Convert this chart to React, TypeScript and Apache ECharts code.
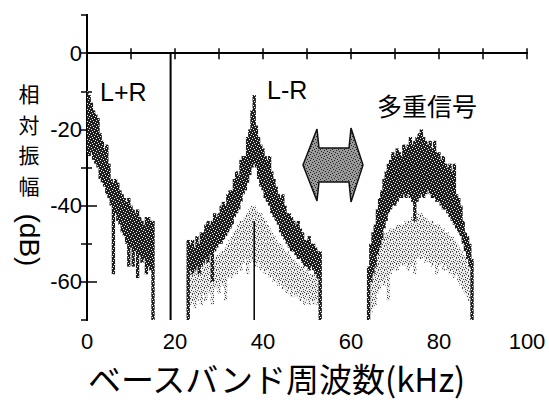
import React, { useEffect, useRef } from 'react';
import * as echarts from 'echarts';

// sampling grid step (kHz)
const STEP = 0.5;

// L+R band (0 .. 15 kHz)
const sumStart = 0;
const sumTop = [-10, -11, -13, -15, -16, -17, -21, -23, -25, -24, -29, -33, -34, -33, -34, -36, -37, -38, -39, -38, -40, -41, -42, -41, -43, -44, -45, -43, -43, -44, -44];
const sumBottom = [-26, -27, -26, -28, -29, -30, -33, -34, -35, -37, -38, -40, -58, -42, -44, -45, -47, -48, -50, -56, -51, -56, -52, -59, -53, -55, -54, -58, -56, -57, -70];

// L-R band (23 .. 53 kHz)
const diffStart = 23;
const diffTop = [-49, -50, -49, -51, -48, -50, -47, -47, -45, -44, -45, -44, -42, -43, -42, -40, -39, -40, -37, -36, -36, -33, -31, -32, -28, -27, -27, -22, -20, -15, -11, -19, -22, -24, -25, -27, -28, -27, -31, -33, -35, -37, -38, -37, -40, -42, -42, -43, -44, -45, -44, -46, -47, -49, -49, -48, -50, -50, -51, -52, -52];
const diffBottom = [-70, -57, -58, -57, -56, -58, -56, -55, -54, -55, -53, -60, -52, -51, -50, -50, -49, -48, -47, -46, -45, -43, -42, -41, -39, -37, -36, -34, -32, -30, -29, -30, -33, -35, -36, -38, -39, -40, -42, -43, -44, -45, -47, -48, -49, -50, -51, -52, -52, -53, -54, -54, -55, -56, -56, -57, -56, -57, -58, -59, -70];
const diffGrayTop = [-58, -57, -57, -58, -56, -57, -57, -56, -55, -55, -55, -54, -54, -53, -53, -52, -52, -51, -50, -49, -48, -47, -46, -45, -44, -44, -43, -42, -41, -40, -40, -41, -42, -42, -43, -44, -45, -46, -47, -48, -49, -50, -50, -51, -52, -52, -53, -54, -54, -55, -55, -56, -56, -57, -57, -58, -58, -58, -59, -59, -60];
const diffGrayBottom = [-66, -66, -65, -67, -65, -64, -66, -63, -65, -62, -63, -66, -62, -61, -63, -60, -61, -65, -59, -58, -59, -57, -58, -56, -57, -55, -54, -58, -55, -54, -55, -56, -55, -57, -56, -58, -57, -59, -58, -60, -59, -61, -60, -62, -61, -63, -62, -64, -62, -64, -63, -65, -64, -66, -64, -66, -65, -66, -65, -66, -66];

// multiplex band (64 .. 87.5 kHz)
const mpxStart = 64;
const mpxTop = [-56, -50, -47, -45, -41, -38, -36, -33, -31, -29, -28, -26, -27, -25, -26, -27, -24, -25, -24, -22, -24, -23, -22, -21, -20, -22, -23, -24, -23, -25, -23, -26, -26, -28, -27, -29, -30, -29, -31, -29, -37, -38, -40, -44, -47, -48, -50, -54];
const mpxBottom = [-70, -60, -58, -56, -53, -51, -49, -46, -44, -42, -41, -40, -40, -39, -38, -38, -37, -38, -37, -38, -39, -44, -39, -38, -37, -38, -37, -36, -37, -38, -38, -39, -39, -40, -41, -41, -42, -43, -44, -45, -46, -47, -48, -50, -52, -54, -56, -70];
const mpxGrayTop = [-62, -60, -58, -56, -53, -51, -49, -48, -47, -47, -46, -46, -46, -45, -45, -45, -45, -44, -44, -44, -43, -43, -43, -42, -42, -43, -43, -44, -44, -44, -45, -45, -45, -46, -46, -47, -47, -48, -48, -49, -50, -51, -52, -53, -54, -56, -58, -60];
const mpxGrayBottom = [-70, -68, -67, -66, -63, -62, -60, -61, -59, -65, -58, -57, -56, -57, -56, -55, -56, -55, -57, -56, -55, -58, -54, -53, -54, -53, -55, -54, -55, -56, -55, -58, -56, -55, -57, -56, -57, -58, -57, -59, -58, -60, -61, -62, -63, -64, -65, -67];

// 19 kHz pilot and 38 kHz residual carrier
const pilotFreq = 19;
const pilotLevel = 0;
const carrierFreq = 38;
const carrierLevel = -44;

const xTicks = [0, 20, 40, 60, 80, 100];
const yTicks = [-60, -40, -20, 0];

const band = (start: number, hi: number[], lo: number[]) =>
  hi.map((h, i) => [start + i * STEP, h, lo[i]]);

const makePattern = (bg: string, fg: string, dots: number[][]) => {
  const c = document.createElement('canvas');
  c.width = 6;
  c.height = 6;
  const ctx = c.getContext('2d')!;
  ctx.fillStyle = bg;
  ctx.fillRect(0, 0, 6, 6);
  ctx.fillStyle = fg;
  dots.forEach(([x, y]) => ctx.fillRect(x, y, 1, 1));
  return { image: c, repeat: 'repeat' };
};

export default function App() {
  const ref = useRef<HTMLDivElement>(null);
  useEffect(() => {
    const chart = echarts.init(ref.current!, null, { renderer: 'svg' });
    const half = STEP / 2 + 0.13;
    const rectSeries = (data: number[][], fill: any, z: number) => ({
      type: 'custom',
      data,
      z,
      clip: true,
      silent: true,
      encode: { x: 0, y: [1, 2] },
      renderItem: (_p: any, api: any) => {
        const f = api.value(0);
        const hi = api.value(1);
        const lo = api.value(2);
        const a = api.coord([f - half, hi]);
        const b = api.coord([f + half, lo]);
        return {
          type: 'rect',
          shape: { x: a[0], y: a[1], width: b[0] - a[0], height: b[1] - a[1] },
          style: { fill },
        };
      },
    });
    const DARK = makePattern('#1e1e1e', '#f0f0f0', [[0, 0], [3, 1], [1, 3], [4, 4], [5, 2], [2, 5]]);
    const GRAY = makePattern('#ececec', '#4a4a4a', [[0, 0], [3, 1], [1, 3], [4, 4], [5, 2], [2, 5], [3, 3], [0, 5]]);
    const ARROW = makePattern('#9a9a9a', '#222', [[0, 0], [3, 1], [1, 3], [4, 4], [5, 2], [2, 5]]);
    const font = 'Liberation Sans, Arial, sans-serif';
    const cjk = '"Noto Sans CJK JP", sans-serif';
    const axisLine = { show: true, lineStyle: { color: '#000', width: 2 } };
    const titleChars = ['相', '対', '振', '幅'];
    const option: any = {
      animation: false,
      backgroundColor: '#fff',
      grid: { left: 87, right: 22, top: 15, bottom: 82 },
      xAxis: [
        {
          type: 'value', min: 0, max: 100, interval: 10, position: 'bottom',
          axisLine, splitLine: { show: false },
          axisTick: { inside: true, length: 5, lineStyle: { color: '#000', width: 1.5 } },
          axisLabel: {
            margin: 10, color: '#000', fontSize: 22, fontFamily: font,
            formatter: (v: number) => (xTicks.includes(v) ? String(v) : ''),
          },
        },
        {
          type: 'value', min: 0, max: 100, interval: 10, position: 'top',
          axisLine, splitLine: { show: false },
          axisTick: { inside: true, length: 6, lineStyle: { color: '#000', width: 1.5 } },
          axisLabel: { show: false },
        },
      ],
      yAxis: [
        {
          type: 'value', min: -70, max: 10, interval: 10, position: 'left',
          axisLine, splitLine: { show: false },
          axisTick: { inside: true, length: 10, customValues: yTicks, lineStyle: { color: '#000', width: 1.5 } },
          axisLabel: {
            margin: 5, color: '#000', fontSize: 22, fontFamily: font,
            formatter: (v: number) => (yTicks.includes(v) ? String(v) : ''),
          },
        },
        {
          type: 'value', min: -70, max: 10, interval: 10, position: 'right',
          axisLine, splitLine: { show: false },
          axisTick: { inside: true, length: 6, lineStyle: { color: '#000', width: 1.5 } },
          axisLabel: { show: false },
        },
        {
          type: 'value', min: -70, max: 10, interval: 10, position: 'left',
          axisLine: { show: false }, splitLine: { show: false },
          axisTick: { inside: true, length: 5, customValues: [-50, -30, -10], lineStyle: { color: '#000', width: 1.5 } },
          axisLabel: { show: false },
        },
      ],
      series: [
        rectSeries(band(diffStart, diffGrayTop, diffGrayBottom), GRAY, 1),
        rectSeries(band(mpxStart, mpxGrayTop, mpxGrayBottom), GRAY, 1),
        rectSeries(band(sumStart, sumTop, sumBottom), DARK, 2),
        rectSeries(band(diffStart, diffTop, diffBottom), DARK, 2),
        rectSeries(band(mpxStart, mpxTop, mpxBottom), DARK, 2),
        {
          type: 'line', data: [[pilotFreq, -70], [pilotFreq, pilotLevel]], symbol: 'none', z: 3,
          lineStyle: { color: '#000', width: 2 }, silent: true,
        },
        {
          type: 'line', data: [[carrierFreq, -70], [carrierFreq, carrierLevel]], symbol: 'none', z: 3,
          lineStyle: { color: '#000', width: 1.5 }, silent: true,
        },
      ],
      graphic: [
        {
          type: 'polygon', z: 10,
          shape: {
            points: [[303, 165], [317, 129], [319, 148], [349, 148], [351, 128], [363, 165], [351, 202], [349, 182], [319, 182], [317, 201]],
          },
          style: { fill: ARROW, stroke: '#111', lineWidth: 1.5 },
        },
        {
          type: 'text', left: 100, top: 79, z: 10,
          style: { text: 'L+R', fontSize: 25, fontFamily: font, fill: '#000' },
        },
        {
          type: 'text', left: 267, top: 77, z: 10,
          style: { text: 'L-R', fontSize: 25, fontFamily: font, fill: '#000' },
        },
        {
          type: 'text', left: 377, top: 92, z: 10,
          style: { text: '多重信号', fontSize: 25, fontFamily: cjk, fill: '#000' },
        },
        ...titleChars.map((ch, i) => ({
          type: 'text', x: 29, y: 93 + i * 30.5, z: 10,
          style: { text: ch, fontSize: 21, lineHeight: 21, fontFamily: cjk, fill: '#000', align: 'center', verticalAlign: 'middle' },
        })),
        {
          type: 'text', x: 29, y: 240, rotation: -Math.PI / 2, z: 10,
          style: { text: '(dB)', fontSize: 28, lineHeight: 28, fontFamily: font, fill: '#000', align: 'center', verticalAlign: 'middle' },
        },
        {
          type: 'text', x: 88, y: 377.6, z: 10,
          style: { text: 'ベースバンド周波数(kHz)', fontSize: 33, lineHeight: 33, fontFamily: cjk, fill: '#000', align: 'left', verticalAlign: 'middle' },
        },
      ],
    };
    chart.setOption(option);
    return () => chart.dispose();
  }, []);
  return <div ref={ref} style={{ position: 'fixed', left: 0, top: 0, width: 549, height: 402 }} />;
}
